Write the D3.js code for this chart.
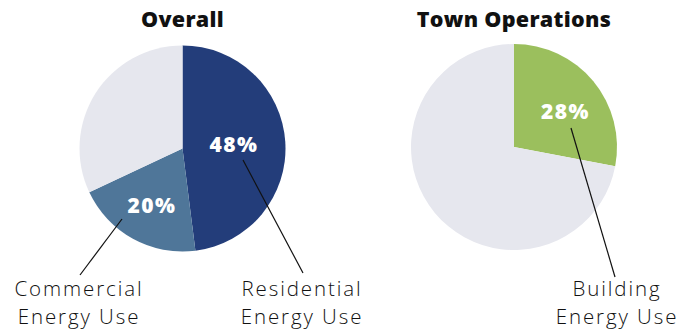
<!DOCTYPE html>
<html><head><meta charset="utf-8">
<script src="https://cdn.jsdelivr.net/npm/d3@7"></script>
<style>
html,body{margin:0;padding:0;background:#fff;}
svg{display:block;}
</style></head>
<body>
<svg id="chart" width="694" height="332"></svg>
<script>
// ---- data ----
const overallCategories = ["Residential Energy Use", "Commercial Energy Use", "Other"];
const overallValues = [48, 20, 32];
const overallColors = ["#233d7a", "#4f7699", "#e6e7ee"];

const townCategories = ["Building Energy Use", "Other"];
const townValues = [28, 72];
const townColors = ["#9bbf5d", "#e6e7ee"];

const titles = ["Overall", "Town Operations"];

// ---- layout ----
const svg = d3.select("#chart");
const R = 103;
const pies = [
  {title: titles[0], cats: overallCategories, vals: overallValues, cols: overallColors, cx: 182.5, cy: 148.5,
   pct: [{i:0, x:234, y:151.5}, {i:1, x:152, y:213}],
   leaders: [{i:0, x1:243, y1:160, x2:303, y2:273, lx:302, ly:[296,324], lines:["Residential","Energy Use"]},
             {i:1, x1:122, y1:219, x2:80, y2:275, lx:79, ly:[296,324], lines:["Commercial","Energy Use"]}]},
  {title: titles[1], cats: townCategories, vals: townValues, cols: townColors, cx: 514, cy: 147,
   pct: [{i:0, x:565.5, y:119}],
   leaders: [{i:0, x1:571, y1:128, x2:615, y2:277, lx:617, ly:[296,324], lines:["Building","Energy Use"]}]}
];

const pieGen = d3.pie().sort(null).value(d => d);
const arcGen = d3.arc().innerRadius(0).outerRadius(R);

pies.forEach(p => {
  const g = svg.append("g").attr("transform", `translate(${p.cx},${p.cy})`);
  const arcs = pieGen(p.vals);
  g.selectAll("path").data(arcs).join("path")
    .attr("d", arcGen)
    .attr("fill", (d, i) => p.cols[i]);

  svg.append("text")
    .attr("x", p.cx).attr("y", 26.5)
    .attr("text-anchor", "middle")
    .attr("font-family", "'Open Sans', sans-serif")
    .attr("font-weight", 800)
    .attr("font-size", 21.5)
    .attr("letter-spacing", 0.3)
    .attr("fill", "#111")
    .text(p.title);

  p.pct.forEach(l => {
    svg.append("text")
      .attr("x", l.x).attr("y", l.y)
      .attr("text-anchor", "middle")
      .attr("font-family", "'Open Sans', sans-serif")
      .attr("font-weight", 800)
      .attr("font-size", 21)
      .attr("letter-spacing", 1.5)
      .attr("fill", "#fff")
      .text(Math.round(p.vals[l.i]) + "%");
  });

  p.leaders.forEach(l => {
    svg.append("line")
      .attr("x1", l.x1).attr("y1", l.y1).attr("x2", l.x2).attr("y2", l.y2)
      .attr("stroke", "#111").attr("stroke-width", 1.2);
    l.lines.forEach((s, k) => {
      svg.append("text")
        .attr("x", l.lx).attr("y", l.ly[k])
        .attr("text-anchor", "middle")
        .attr("font-family", "'Open Sans', sans-serif")
        .attr("font-weight", 300)
        .attr("font-size", 20.5)
        .attr("letter-spacing", 1.9)
        .attr("fill", "#111")
        .text(s);
    });
  });
});
</script>
</body></html>
